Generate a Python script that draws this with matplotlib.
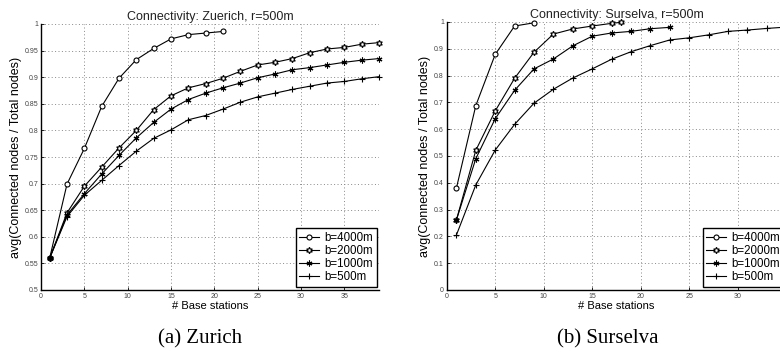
import numpy as np
import matplotlib
matplotlib.use("Agg")
import matplotlib.pyplot as plt

# connectivity vs. number of base stations, r = 500m
labels = ["b=4000m", "b=2000m", "b=1000m", "b=500m"]

zh_b4000 = [0.560, 0.699, 0.766, 0.845, 0.898, 0.933, 0.954, 0.972, 0.980, 0.983, 0.986]
zh_b2000 = [0.560, 0.645, 0.695, 0.731, 0.767, 0.800, 0.839, 0.865, 0.880, 0.888,
            0.898, 0.911, 0.923, 0.928, 0.935, 0.946, 0.953, 0.956, 0.962, 0.965]
zh_b1000 = [0.560, 0.641, 0.681, 0.718, 0.753, 0.786, 0.815, 0.840, 0.858, 0.870,
            0.880, 0.889, 0.899, 0.906, 0.914, 0.918, 0.923, 0.928, 0.932, 0.935]
zh_b500 = [0.560, 0.638, 0.678, 0.706, 0.734, 0.761, 0.785, 0.801, 0.820, 0.828,
           0.840, 0.853, 0.863, 0.870, 0.877, 0.883, 0.889, 0.892, 0.897, 0.901]

ss_b4000 = [0.380, 0.688, 0.879, 0.985, 0.997]
ss_b2000 = [0.261, 0.521, 0.668, 0.790, 0.887, 0.955, 0.974, 0.985, 0.995, 0.999]
ss_b1000 = [0.261, 0.490, 0.639, 0.745, 0.825, 0.862, 0.911, 0.947, 0.959, 0.965,
            0.975, 0.980]
ss_b500 = [0.205, 0.392, 0.522, 0.618, 0.697, 0.749, 0.791, 0.825, 0.861, 0.889,
           0.912, 0.933, 0.941, 0.952, 0.965, 0.970, 0.976, 0.981]

def odd_x(vals):
    return np.arange(1, 2 * len(vals), 2)

ss_x2000 = [1, 3, 5, 7, 9, 11, 13, 15, 17, 18]

plt.rcParams["font.family"] = ["Liberation Sans", "DejaVu Sans"]

styles = [
    dict(marker="o", ms=3.6, mfc="white"),
    dict(marker=(6, 1, 0), ms=4.6, mfc="white"),
    dict(marker=(6, 2, 0), ms=4.2),
    dict(marker="+", ms=4.5),
]


def setup(ax, title, xlim, ylim, ystep):
    ax.set_xlim(*xlim)
    ax.set_ylim(*ylim)
    ax.set_xticks(np.arange(0, xlim[1] + 0.1, 5))
    ax.set_yticks(np.round(np.arange(ylim[0], ylim[1] + 1e-9, ystep), 2))
    ax.yaxis.set_major_formatter(plt.FuncFormatter(lambda v, p: ("%g" % v)))
    ax.grid(True, linestyle=(0, (1, 2.5)), color="#888888", linewidth=0.7)
    for s in ["top", "right"]:
        ax.spines[s].set_visible(False)
    for s in ["left", "bottom"]:
        ax.spines[s].set_linewidth(1.0)
    ax.tick_params(direction="in", length=2, labelsize=5, labelcolor="#444444",
                   pad=2, width=0.6)
    ax.set_title(title, fontsize=9, color="#222222", pad=3)
    ax.set_xlabel("# Base stations", fontsize=8, labelpad=1)
    ax.set_ylabel("avg(Connected nodes / Total nodes)", fontsize=9, labelpad=2)


def plot_series(ax, xs, ys):
    for x, y, lab, st in zip(xs, ys, labels, styles):
        ax.plot(x, y, color="black", linewidth=0.8, mew=0.8, mec="black",
                label=lab, clip_on=False, **st)


fig = plt.figure(figsize=(7.8, 3.6), dpi=100)

ax1 = fig.add_axes([41 / 780, 70 / 360, 338 / 780, 266 / 360])
plot_series(ax1, [odd_x(zh_b4000), odd_x(zh_b2000), odd_x(zh_b1000), odd_x(zh_b500)],
            [zh_b4000, zh_b2000, zh_b1000, zh_b500])
setup(ax1, "Connectivity: Zuerich, r=500m", (0, 39), (0.5, 1.0), 0.05)

ax2 = fig.add_axes([446.7 / 780, 70 / 360, 339.5 / 780, 268 / 360])
plot_series(ax2, [odd_x(ss_b4000), ss_x2000, odd_x(ss_b1000), odd_x(ss_b500)],
            [ss_b4000, ss_b2000, ss_b1000, ss_b500])
setup(ax2, "Connectivity: Surselva, r=500m", (0, 35), (0, 1.0), 0.1)

for ax in (ax1, ax2):
    leg = ax.legend(loc="lower right", bbox_to_anchor=(0.993, 0.012),
                    borderaxespad=0, fontsize=8.3, fancybox=False,
                    edgecolor="black", framealpha=1, handlelength=1.7,
                    handletextpad=0.5, labelspacing=0.1, borderpad=0.3)
    leg.get_frame().set_linewidth(1.0)

fig.text(200 / 780, 1 - 339 / 360, "(a) Zurich", family="Liberation Serif",
         fontsize=15, ha="center", va="center")
fig.text(608 / 780, 1 - 339 / 360, "(b) Surselva", family="Liberation Serif",
         fontsize=15, ha="center", va="center")

fig.savefig("out.png", dpi=100)
